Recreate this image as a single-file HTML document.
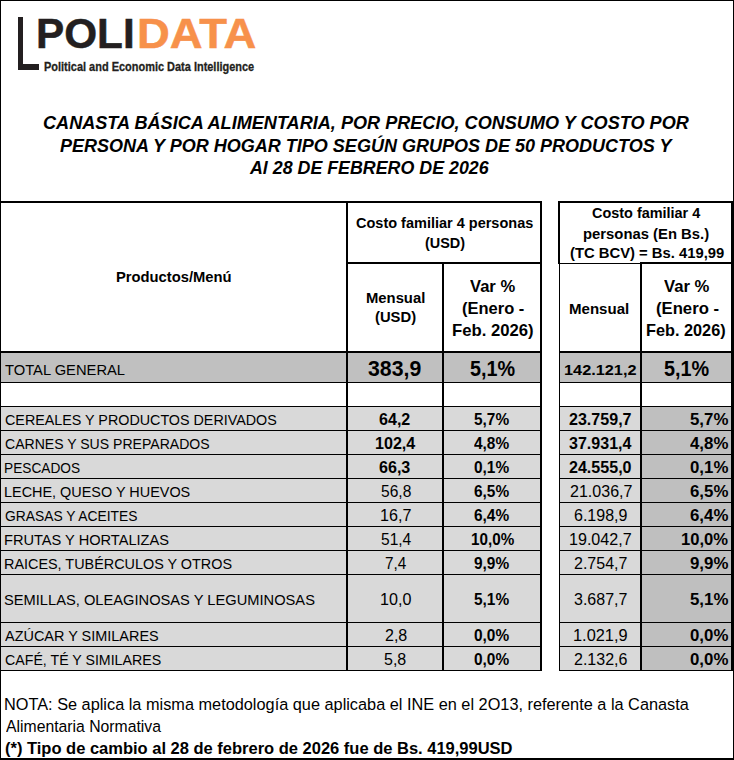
<!DOCTYPE html>
<html><head><meta charset="utf-8"><style>
html,body{margin:0;padding:0;}
body{width:734px;height:760px;position:relative;overflow:hidden;background:#fff;font-family:"Liberation Sans",sans-serif;color:#000;}
.r{position:absolute;}
.t{position:absolute;white-space:pre;}
</style></head><body>
<div class="r" style="left:1px;top:353px;width:345px;height:29px;background:#c0c0c0"></div>
<div class="r" style="left:348px;top:353px;width:192px;height:29px;background:#c0c0c0"></div>
<div class="r" style="left:560px;top:353px;width:171px;height:29px;background:#c0c0c0"></div>
<div class="r" style="left:1px;top:407px;width:345px;height:263px;background:#d9d9d9"></div>
<div class="r" style="left:348px;top:407px;width:192px;height:263px;background:#d9d9d9"></div>
<div class="r" style="left:560px;top:407px;width:80px;height:263px;background:#d9d9d9"></div>
<div class="r" style="left:642px;top:407px;width:89px;height:263px;background:#bfbfbf"></div>
<div class="r" style="left:0px;top:0px;width:734px;height:1px;background:#000"></div>
<div class="r" style="left:0px;top:0px;width:1px;height:760px;background:#000"></div>
<div class="r" style="left:733px;top:0px;width:1px;height:760px;background:#000"></div>
<div class="r" style="left:0px;top:758px;width:734px;height:2px;background:#000"></div>
<div class="r" style="left:0px;top:201px;width:542px;height:2px;background:#000"></div>
<div class="r" style="left:558px;top:201px;width:175px;height:2px;background:#000"></div>
<div class="r" style="left:346px;top:262px;width:196px;height:2px;background:#000"></div>
<div class="r" style="left:558px;top:263px;width:83px;height:1px;background:#000"></div>
<div class="r" style="left:640px;top:262px;width:93px;height:2px;background:#000"></div>
<div class="r" style="left:0px;top:351px;width:542px;height:2px;background:#000"></div>
<div class="r" style="left:559px;top:351px;width:174px;height:2px;background:#000"></div>
<div class="r" style="left:0px;top:382px;width:542px;height:1px;background:#000"></div>
<div class="r" style="left:559px;top:382px;width:174px;height:1px;background:#000"></div>
<div class="r" style="left:0px;top:406px;width:542px;height:1px;background:#000"></div>
<div class="r" style="left:559px;top:406px;width:174px;height:1px;background:#000"></div>
<div class="r" style="left:0px;top:430px;width:542px;height:1px;background:#000"></div>
<div class="r" style="left:559px;top:430px;width:174px;height:1px;background:#000"></div>
<div class="r" style="left:0px;top:454px;width:542px;height:1px;background:#000"></div>
<div class="r" style="left:559px;top:454px;width:174px;height:1px;background:#000"></div>
<div class="r" style="left:0px;top:478px;width:542px;height:1px;background:#000"></div>
<div class="r" style="left:559px;top:478px;width:174px;height:1px;background:#000"></div>
<div class="r" style="left:0px;top:502px;width:542px;height:1px;background:#000"></div>
<div class="r" style="left:559px;top:502px;width:174px;height:1px;background:#000"></div>
<div class="r" style="left:0px;top:526px;width:542px;height:1px;background:#000"></div>
<div class="r" style="left:559px;top:526px;width:174px;height:1px;background:#000"></div>
<div class="r" style="left:0px;top:550px;width:542px;height:1px;background:#000"></div>
<div class="r" style="left:559px;top:550px;width:174px;height:1px;background:#000"></div>
<div class="r" style="left:0px;top:574px;width:542px;height:1px;background:#000"></div>
<div class="r" style="left:559px;top:574px;width:174px;height:1px;background:#000"></div>
<div class="r" style="left:0px;top:622px;width:542px;height:1px;background:#000"></div>
<div class="r" style="left:559px;top:622px;width:174px;height:1px;background:#000"></div>
<div class="r" style="left:0px;top:646px;width:542px;height:1px;background:#000"></div>
<div class="r" style="left:559px;top:646px;width:174px;height:1px;background:#000"></div>
<div class="r" style="left:0px;top:670px;width:542px;height:1px;background:#000"></div>
<div class="r" style="left:559px;top:670px;width:174px;height:1px;background:#000"></div>
<div class="r" style="left:346px;top:201px;width:2px;height:470px;background:#000"></div>
<div class="r" style="left:442px;top:262px;width:2px;height:409px;background:#000"></div>
<div class="r" style="left:540px;top:201px;width:2px;height:470px;background:#000"></div>
<div class="r" style="left:558px;top:201px;width:2px;height:62px;background:#000"></div>
<div class="r" style="left:559px;top:263px;width:1px;height:408px;background:#000"></div>
<div class="r" style="left:640px;top:262px;width:2px;height:409px;background:#000"></div>
<div class="r" style="left:731px;top:201px;width:2px;height:470px;background:#000"></div>
<div class="r" style="left:18px;top:17px;width:5px;height:53px;background:#231f20"></div>
<div class="r" style="left:18px;top:64px;width:21px;height:6px;background:#231f20"></div>
<div class="t" id="t0" style="top:11.62px;left:35.56px;font-size:43px;line-height:43px;font-weight:bold;color:#231f20;-webkit-text-stroke:0.5px #231f20;transform:scale(0.9831,1.0000);transform-origin:0 36.98px;">POLI</div>
<div class="t" id="t1" style="top:11.62px;left:137.24px;font-size:43px;line-height:43px;font-weight:bold;color:#f7914b;-webkit-text-stroke:0.5px #f7914b;transform:scale(1.0565,1.0000);transform-origin:0 36.98px;">DATA</div>
<div class="t" id="t2" style="top:61.49px;left:44.36px;font-size:12.8px;line-height:12.8px;font-weight:bold;color:#231f20;-webkit-text-stroke:0.3px #231f20;transform:scale(0.8568,1.0000);transform-origin:0 11.01px;">Political and Economic Data Intelligence</div>
<div class="t" id="t3" style="top:113.52px;left:42.80px;font-size:18px;line-height:18px;font-weight:bold;font-style:italic;transform:scale(1.0053,1.0000);transform-origin:0 15.48px;">CANASTA BÁSICA ALIMENTARIA, POR PRECIO, CONSUMO Y COSTO POR</div>
<div class="t" id="t4" style="top:136.52px;left:60.30px;font-size:18px;line-height:18px;font-weight:bold;font-style:italic;transform:scale(1.0005,1.0000);transform-origin:0 15.48px;">PERSONA Y POR HOGAR TIPO SEGÚN GRUPOS DE 50 PRODUCTOS Y</div>
<div class="t" id="t5" style="top:158.52px;left:250.39px;font-size:18px;line-height:18px;font-weight:bold;font-style:italic;transform:scale(0.9897,1.0000);transform-origin:0 15.48px;">Al 28 DE FEBRERO DE 2026</div>
<div class="t" id="t6" style="top:269.04px;left:116.03px;font-size:15.3px;line-height:15.3px;font-weight:bold;transform:scale(0.9646,1.0000);transform-origin:0 13.16px;">Productos/Menú</div>
<div class="t" id="t7" style="top:215.34px;left:356.00px;font-size:15.3px;line-height:15.3px;font-weight:bold;transform:scale(0.9479,1.0000);transform-origin:0 13.16px;">Costo familiar 4 personas</div>
<div class="t" id="t8" style="top:235.44px;left:425.00px;font-size:15.3px;line-height:15.3px;font-weight:bold;transform:scale(0.9432,1.0000);transform-origin:0 13.16px;">(USD)</div>
<div class="t" id="t9" style="top:290.04px;left:366.14px;font-size:15.3px;line-height:15.3px;font-weight:bold;transform:scale(0.9686,1.0000);transform-origin:0 13.16px;">Mensual</div>
<div class="t" id="t10" style="top:309.44px;left:374.72px;font-size:15.3px;line-height:15.3px;font-weight:bold;transform:scale(0.9669,1.0000);transform-origin:0 13.16px;">(USD)</div>
<div class="t" id="t11" style="top:279.00px;left:470.33px;font-size:15.7px;line-height:15.7px;font-weight:bold;transform:scale(1.0570,1.0000);transform-origin:0 13.50px;">Var %</div>
<div class="t" id="t12" style="top:301.00px;left:461.80px;font-size:15.7px;line-height:15.7px;font-weight:bold;transform:scale(1.0508,1.0000);transform-origin:0 13.50px;">(Enero -</div>
<div class="t" id="t13" style="top:322.80px;left:452.14px;font-size:15.7px;line-height:15.7px;font-weight:bold;transform:scale(1.0630,1.0000);transform-origin:0 13.50px;">Feb. 2026)</div>
<div class="t" id="t14" style="top:205.24px;left:592.42px;font-size:15.3px;line-height:15.3px;font-weight:bold;transform:scale(0.9433,1.0000);transform-origin:0 13.16px;">Costo familiar 4</div>
<div class="t" id="t15" style="top:225.64px;left:583.03px;font-size:15.3px;line-height:15.3px;font-weight:bold;transform:scale(0.9697,1.0000);transform-origin:0 13.16px;">personas (En Bs.)</div>
<div class="t" id="t16" style="top:245.14px;left:569.70px;font-size:15.3px;line-height:15.3px;font-weight:bold;transform:scale(0.9679,1.0000);transform-origin:0 13.16px;">(TC BCV) = Bs. 419,99</div>
<div class="t" id="t17" style="top:300.64px;left:569.44px;font-size:15.3px;line-height:15.3px;font-weight:bold;transform:scale(0.9833,1.0000);transform-origin:0 13.16px;">Mensual</div>
<div class="t" id="t18" style="top:279.00px;left:664.00px;font-size:15.7px;line-height:15.7px;font-weight:bold;transform:scale(1.0639,1.0000);transform-origin:0 13.50px;">Var %</div>
<div class="t" id="t19" style="top:301.00px;left:655.59px;font-size:15.7px;line-height:15.7px;font-weight:bold;transform:scale(1.0633,1.0000);transform-origin:0 13.50px;">(Enero -</div>
<div class="t" id="t20" style="top:322.80px;left:646.16px;font-size:15.7px;line-height:15.7px;font-weight:bold;transform:scale(1.0376,1.0000);transform-origin:0 13.50px;">Feb. 2026)</div>
<div class="t" id="t21" style="top:361.97px;left:5.00px;font-size:15.5px;line-height:15.5px;transform:scale(0.9501,1.0000);transform-origin:0 13.33px;">TOTAL GENERAL</div>
<div class="t" id="t22" style="top:358.88px;left:368.38px;font-size:20.6px;line-height:20.6px;font-weight:bold;transform:scale(1.0323,1.0700);transform-origin:0 17.72px;">383,9</div>
<div class="t" id="t23" style="top:358.88px;left:470.00px;font-size:20.6px;line-height:20.6px;font-weight:bold;transform:scale(0.9600,1.0700);transform-origin:0 17.72px;">5,1%</div>
<div class="t" id="t24" style="top:361.84px;left:563.87px;font-size:15.3px;line-height:15.3px;font-weight:bold;transform:scale(1.0655,1.0000);transform-origin:0 13.16px;">142.121,2</div>
<div class="t" id="t25" style="top:358.88px;left:664.00px;font-size:20.6px;line-height:20.6px;font-weight:bold;transform:scale(0.9624,1.0700);transform-origin:0 17.72px;">5,1%</div>
<div class="t" id="t26" style="top:411.97px;left:5.00px;font-size:15.5px;line-height:15.5px;transform:scale(0.9235,1.0000);transform-origin:0 13.33px;">CEREALES Y PRODUCTOS DERIVADOS</div>
<div class="t" id="t27" style="top:412.53px;left:379.04px;font-size:14.5px;line-height:14.5px;font-weight:bold;transform:scale(1.1098,1.0800);transform-origin:0 12.47px;">64,2</div>
<div class="t" id="t28" style="top:412.53px;left:474.00px;font-size:14.5px;line-height:14.5px;font-weight:bold;transform:scale(1.0624,1.0800);transform-origin:0 12.47px;">5,7%</div>
<div class="t" id="t29" style="top:412.53px;left:568.99px;font-size:14.5px;line-height:14.5px;font-weight:bold;transform:scale(1.1078,1.0800);transform-origin:0 12.47px;">23.759,7</div>
<div class="t" id="t30" style="top:411.67px;left:689.99px;font-size:15.5px;line-height:15.5px;font-weight:bold;transform:scale(1.0864,1.1200);transform-origin:0 13.33px;">5,7%</div>
<div class="t" id="t31" style="top:435.97px;left:5.00px;font-size:15.5px;line-height:15.5px;transform:scale(0.9066,1.0000);transform-origin:0 13.33px;">CARNES Y SUS PREPARADOS</div>
<div class="t" id="t32" style="top:436.53px;left:374.97px;font-size:14.5px;line-height:14.5px;font-weight:bold;transform:scale(1.1106,1.0800);transform-origin:0 12.47px;">102,4</div>
<div class="t" id="t33" style="top:436.53px;left:474.00px;font-size:14.5px;line-height:14.5px;font-weight:bold;transform:scale(1.0624,1.0800);transform-origin:0 12.47px;">4,8%</div>
<div class="t" id="t34" style="top:436.53px;left:569.00px;font-size:14.5px;line-height:14.5px;font-weight:bold;transform:scale(1.1059,1.0800);transform-origin:0 12.47px;">37.931,4</div>
<div class="t" id="t35" style="top:435.67px;left:689.99px;font-size:15.5px;line-height:15.5px;font-weight:bold;transform:scale(1.0864,1.1200);transform-origin:0 13.33px;">4,8%</div>
<div class="t" id="t36" style="top:459.97px;left:4.12px;font-size:15.5px;line-height:15.5px;transform:scale(0.8832,1.0000);transform-origin:0 13.33px;">PESCADOS</div>
<div class="t" id="t37" style="top:460.53px;left:379.04px;font-size:14.5px;line-height:14.5px;font-weight:bold;transform:scale(1.1098,1.0800);transform-origin:0 12.47px;">66,3</div>
<div class="t" id="t38" style="top:460.53px;left:474.00px;font-size:14.5px;line-height:14.5px;font-weight:bold;transform:scale(1.0624,1.0800);transform-origin:0 12.47px;">0,1%</div>
<div class="t" id="t39" style="top:460.53px;left:568.99px;font-size:14.5px;line-height:14.5px;font-weight:bold;transform:scale(1.1078,1.0800);transform-origin:0 12.47px;">24.555,0</div>
<div class="t" id="t40" style="top:459.67px;left:689.99px;font-size:15.5px;line-height:15.5px;font-weight:bold;transform:scale(1.0864,1.1200);transform-origin:0 13.33px;">0,1%</div>
<div class="t" id="t41" style="top:483.97px;left:4.07px;font-size:15.5px;line-height:15.5px;transform:scale(0.9306,1.0000);transform-origin:0 13.33px;">LECHE, QUESO Y HUEVOS</div>
<div class="t" id="t42" style="top:484.53px;left:381.04px;font-size:14.5px;line-height:14.5px;transform:scale(1.0737,1.0800);transform-origin:0 12.47px;">56,8</div>
<div class="t" id="t43" style="top:484.53px;left:474.00px;font-size:14.5px;line-height:14.5px;font-weight:bold;transform:scale(1.0624,1.0800);transform-origin:0 12.47px;">6,5%</div>
<div class="t" id="t44" style="top:484.53px;left:569.99px;font-size:14.5px;line-height:14.5px;transform:scale(1.1074,1.0800);transform-origin:0 12.47px;">21.036,7</div>
<div class="t" id="t45" style="top:483.67px;left:689.99px;font-size:15.5px;line-height:15.5px;font-weight:bold;transform:scale(1.0864,1.1200);transform-origin:0 13.33px;">6,5%</div>
<div class="t" id="t46" style="top:507.97px;left:5.00px;font-size:15.5px;line-height:15.5px;transform:scale(0.8922,1.0000);transform-origin:0 13.33px;">GRASAS Y ACEITES</div>
<div class="t" id="t47" style="top:508.53px;left:379.92px;font-size:14.5px;line-height:14.5px;transform:scale(1.1123,1.0800);transform-origin:0 12.47px;">16,7</div>
<div class="t" id="t48" style="top:508.53px;left:474.00px;font-size:14.5px;line-height:14.5px;font-weight:bold;transform:scale(1.0624,1.0800);transform-origin:0 12.47px;">6,4%</div>
<div class="t" id="t49" style="top:508.53px;left:574.01px;font-size:14.5px;line-height:14.5px;transform:scale(1.1048,1.0800);transform-origin:0 12.47px;">6.198,9</div>
<div class="t" id="t50" style="top:507.67px;left:689.99px;font-size:15.5px;line-height:15.5px;font-weight:bold;transform:scale(1.0864,1.1200);transform-origin:0 13.33px;">6,4%</div>
<div class="t" id="t51" style="top:531.97px;left:4.06px;font-size:15.5px;line-height:15.5px;transform:scale(0.9419,1.0000);transform-origin:0 13.33px;">FRUTAS Y HORTALIZAS</div>
<div class="t" id="t52" style="top:532.53px;left:381.02px;font-size:14.5px;line-height:14.5px;transform:scale(1.0725,1.0800);transform-origin:0 12.47px;">51,4</div>
<div class="t" id="t53" style="top:532.53px;left:471.00px;font-size:14.5px;line-height:14.5px;font-weight:bold;transform:scale(1.0501,1.0800);transform-origin:0 12.47px;">10,0%</div>
<div class="t" id="t54" style="top:532.53px;left:568.86px;font-size:14.5px;line-height:14.5px;transform:scale(1.1099,1.0800);transform-origin:0 12.47px;">19.042,7</div>
<div class="t" id="t55" style="top:531.67px;left:680.99px;font-size:15.5px;line-height:15.5px;font-weight:bold;transform:scale(1.0699,1.1200);transform-origin:0 13.33px;">10,0%</div>
<div class="t" id="t56" style="top:555.97px;left:4.07px;font-size:15.5px;line-height:15.5px;transform:scale(0.9289,1.0000);transform-origin:0 13.33px;">RAICES, TUBÉRCULOS Y OTROS</div>
<div class="t" id="t57" style="top:556.53px;left:385.00px;font-size:14.5px;line-height:14.5px;transform:scale(1.0557,1.0800);transform-origin:0 12.47px;">7,4</div>
<div class="t" id="t58" style="top:556.53px;left:474.00px;font-size:14.5px;line-height:14.5px;font-weight:bold;transform:scale(1.0624,1.0800);transform-origin:0 12.47px;">9,9%</div>
<div class="t" id="t59" style="top:556.53px;left:574.01px;font-size:14.5px;line-height:14.5px;transform:scale(1.1048,1.0800);transform-origin:0 12.47px;">2.754,7</div>
<div class="t" id="t60" style="top:555.67px;left:689.99px;font-size:15.5px;line-height:15.5px;font-weight:bold;transform:scale(1.0864,1.1200);transform-origin:0 13.33px;">9,9%</div>
<div class="t" id="t61" style="top:591.97px;left:3.97px;font-size:15.5px;line-height:15.5px;transform:scale(0.9465,1.0000);transform-origin:0 13.33px;">SEMILLAS, OLEAGINOSAS Y LEGUMINOSAS</div>
<div class="t" id="t62" style="top:592.53px;left:379.90px;font-size:14.5px;line-height:14.5px;transform:scale(1.1123,1.0800);transform-origin:0 12.47px;">10,0</div>
<div class="t" id="t63" style="top:592.53px;left:474.00px;font-size:14.5px;line-height:14.5px;font-weight:bold;transform:scale(1.0624,1.0800);transform-origin:0 12.47px;">5,1%</div>
<div class="t" id="t64" style="top:592.53px;left:574.01px;font-size:14.5px;line-height:14.5px;transform:scale(1.1048,1.0800);transform-origin:0 12.47px;">3.687,7</div>
<div class="t" id="t65" style="top:591.67px;left:689.99px;font-size:15.5px;line-height:15.5px;font-weight:bold;transform:scale(1.0864,1.1200);transform-origin:0 13.33px;">5,1%</div>
<div class="t" id="t66" style="top:627.97px;left:5.00px;font-size:15.5px;line-height:15.5px;transform:scale(0.9326,1.0000);transform-origin:0 13.33px;">AZÚCAR Y SIMILARES</div>
<div class="t" id="t67" style="top:628.53px;left:385.00px;font-size:14.5px;line-height:14.5px;transform:scale(1.1060,1.0800);transform-origin:0 12.47px;">2,8</div>
<div class="t" id="t68" style="top:628.53px;left:474.00px;font-size:14.5px;line-height:14.5px;font-weight:bold;transform:scale(1.0624,1.0800);transform-origin:0 12.47px;">0,0%</div>
<div class="t" id="t69" style="top:628.53px;left:572.84px;font-size:14.5px;line-height:14.5px;transform:scale(1.1283,1.0800);transform-origin:0 12.47px;">1.021,9</div>
<div class="t" id="t70" style="top:627.67px;left:689.99px;font-size:15.5px;line-height:15.5px;font-weight:bold;transform:scale(1.0864,1.1200);transform-origin:0 13.33px;">0,0%</div>
<div class="t" id="t71" style="top:651.97px;left:5.00px;font-size:15.5px;line-height:15.5px;transform:scale(0.9155,1.0000);transform-origin:0 13.33px;">CAFÉ, TÉ Y SIMILARES</div>
<div class="t" id="t72" style="top:652.53px;left:383.99px;font-size:14.5px;line-height:14.5px;transform:scale(1.1060,1.0800);transform-origin:0 12.47px;">5,8</div>
<div class="t" id="t73" style="top:652.53px;left:474.00px;font-size:14.5px;line-height:14.5px;font-weight:bold;transform:scale(1.0624,1.0800);transform-origin:0 12.47px;">0,0%</div>
<div class="t" id="t74" style="top:652.53px;left:574.01px;font-size:14.5px;line-height:14.5px;transform:scale(1.1048,1.0800);transform-origin:0 12.47px;">2.132,6</div>
<div class="t" id="t75" style="top:651.67px;left:689.99px;font-size:15.5px;line-height:15.5px;font-weight:bold;transform:scale(1.0864,1.1200);transform-origin:0 13.33px;">0,0%</div>
<div class="t" id="t76" style="top:695.98px;left:4.21px;font-size:16.3px;line-height:16.3px;transform:scale(1.0014,1.0000);transform-origin:0 14.02px;">NOTA: Se aplica la misma metodología que aplicaba el INE en el 2O13, referente a la Canasta</div>
<div class="t" id="t77" style="top:717.98px;left:5.58px;font-size:16.3px;line-height:16.3px;transform:scale(0.9678,1.0000);transform-origin:0 14.02px;">Alimentaria Normativa</div>
<div class="t" id="t78" style="top:741.24px;left:5.00px;font-size:16.0px;line-height:16.0px;font-weight:bold;transform:scale(1.0308,1.0000);transform-origin:0 13.76px;">(*) Tipo de cambio al 28 de febrero de 2026 fue de Bs. 419,99USD</div>
</body></html>
